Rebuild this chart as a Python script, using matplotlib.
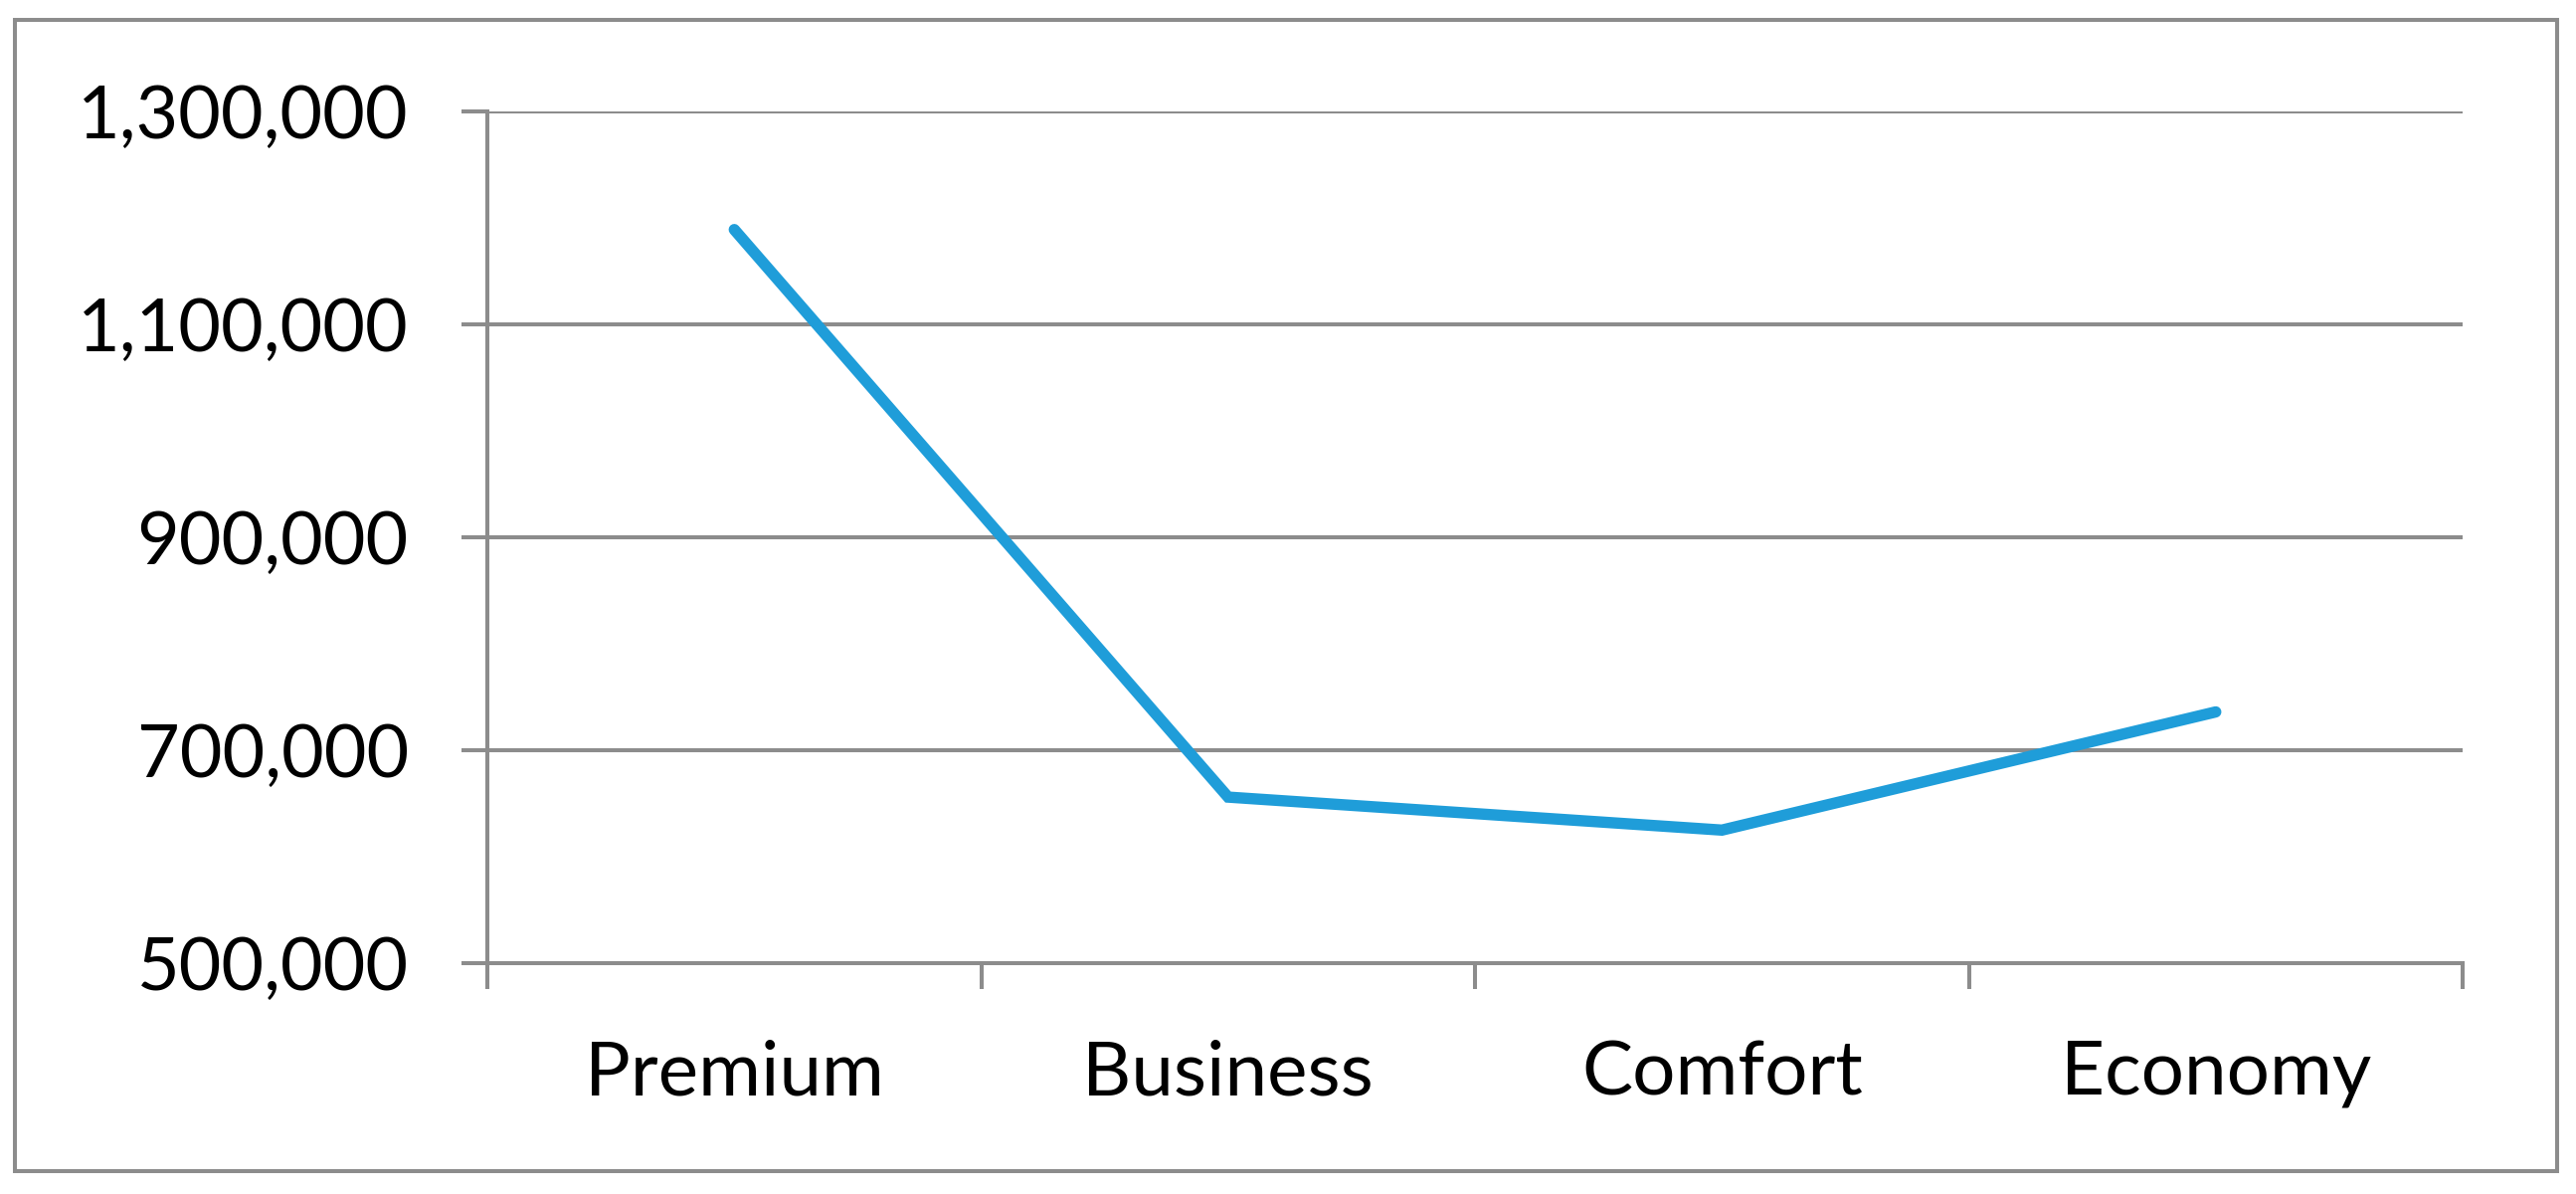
import matplotlib.pyplot as plt
from matplotlib.patches import Rectangle
from matplotlib.ticker import FuncFormatter

plt.rcParams['font.family'] = ['Lato', 'DejaVu Sans']

# data
categories = ["Premium", "Business", "Comfort", "Economy"]
values = [1189000, 656000, 625000, 736000]
y_ticks = [500000, 700000, 900000, 1100000, 1300000]

grid_color = '#8c8c8c'
line_color = '#1f9dd9'

fig = plt.figure(figsize=(25.9, 12), dpi=100)
ax = fig.add_axes([0.1892, 0.1933, 0.956 - 0.1892, 0.9067 - 0.1933])

x = list(range(len(categories)))
ax.plot(x, values, color=line_color, linewidth=8.2, solid_capstyle='round',
        solid_joinstyle='miter', zorder=3)

ax.set_xlim(-0.5, len(categories) - 0.5)
ax.set_ylim(y_ticks[0], y_ticks[-1])

ax.set_yticks(y_ticks)
ax.yaxis.set_major_formatter(FuncFormatter(lambda v, p: f"{int(v):,}"))
ax.grid(axis='y', color=grid_color, linewidth=2.9, zorder=1)

# category boundaries as major ticks, labels centred as minor ticks
ax.set_xticks([i - 0.5 for i in range(len(categories) + 1)])
ax.set_xticklabels([])
ax.set_xticks(x, minor=True)
ax.set_xticklabels(categories, minor=True)

ax.tick_params(axis='y', length=19, width=2.9, color=grid_color,
               labelsize=53, pad=38)
ax.tick_params(axis='x', which='major', length=19, width=2.9, color=grid_color)
ax.tick_params(axis='x', which='minor', length=0, labelsize=55, pad=55)

for side in ['top', 'right']:
    ax.spines[side].set_visible(False)
for side in ['left', 'bottom']:
    ax.spines[side].set_color(grid_color)
    ax.spines[side].set_linewidth(2.9)

# outer chart border
fig.patches.append(Rectangle((15 / 2590, 1 - 1177 / 1200), (2571 - 15) / 2590,
                             (1177 - 20) / 1200, transform=fig.transFigure,
                             fill=False, edgecolor=grid_color, linewidth=2.9))

fig.savefig('out.png', dpi=100)
